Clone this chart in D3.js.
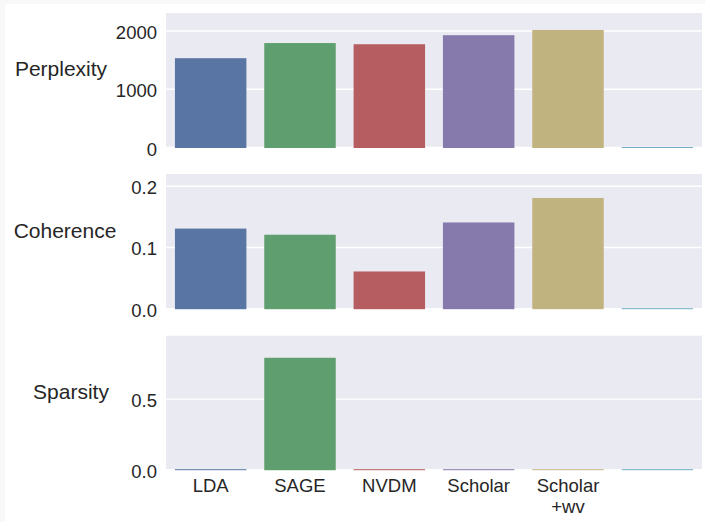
<!DOCTYPE html>
<html>
<head>
<meta charset="utf-8">
<script src="https://cdn.jsdelivr.net/npm/d3@7/dist/d3.min.js"></script>
<style>
  html, body { margin: 0; padding: 0; background: #ffffff; }
  svg { display: block; }
  text { font-family: "Liberation Sans", Arial, Helvetica, sans-serif; fill: #262626; }
</style>
</head>
<body>
<svg id="chart" width="705" height="522"></svg>
<script>
// Models compared (the last slot is an unlabeled reference bar)
const models = ["LDA", "SAGE", "NVDM", "Scholar", "Scholar\n+wv", ""];
const colors = ["#5875a4", "#5f9e6e", "#b55d60", "#857aab", "#c1b37f", "#71aec0"];

// Metric values per model
const perplexity = [1525, 1785, 1765, 1920, 2010, 0];
const coherence  = [0.13, 0.12, 0.06, 0.14, 0.18, 0];
const sparsity   = [0, 0.79, 0, 0, 0, 0];

// Tick values per panel
const perplexityTicks = [0, 1000, 2000];
const coherenceTicks  = [0, 0.1, 0.2];
const sparsityTicks   = [0, 0.5];

const panels = [
  { label: "Perplexity", values: perplexity, ticks: perplexityTicks, max: 2310, fmt: d3.format("d"),
    top: 13, bottom: 147.5, labelX: 61, labelY: 76, grid: 1.6 },
  { label: "Coherence", values: coherence, ticks: coherenceTicks, max: 0.22, fmt: d3.format(".1f"),
    top: 174, bottom: 308.7, labelX: 65, labelY: 237.7, grid: 1.6 },
  { label: "Sparsity", values: sparsity, ticks: sparsityTicks, max: 0.95, fmt: d3.format(".1f"),
    top: 335.7, bottom: 469.7, labelX: 71, labelY: 399.3, grid: 1.2 }
];

const svg = d3.select("#chart");
const left = 166, right = 702;
const edge = 1; // bar outline width, drawn in the bar colour

// faint frame along the top and left edges
svg.append("rect").attr("x", 0).attr("y", 0).attr("width", 705).attr("height", 4).attr("fill", "#f8f8f8");
svg.append("rect").attr("x", 0).attr("y", 0).attr("width", 5).attr("height", 522).attr("fill", "#f8f8f8");

const x = d3.scaleBand()
  .domain(d3.range(models.length))
  .range([left, right])
  .paddingInner(0.2)
  .paddingOuter(0.1);

panels.forEach((p, pi) => {
  const y = d3.scaleLinear().domain([0, p.max]).range([p.bottom, p.top]);
  const g = svg.append("g");

  // plot background
  g.append("rect")
    .attr("x", left).attr("y", p.top)
    .attr("width", right - left).attr("height", p.bottom - p.top)
    .attr("fill", "#eaeaf2");

  // horizontal grid
  g.selectAll("line.grid").data(p.ticks).join("line")
    .attr("class", "grid")
    .attr("x1", left).attr("x2", right)
    .attr("y1", d => y(d)).attr("y2", d => y(d))
    .attr("stroke", "#ffffff").attr("stroke-width", p.grid);

  // y tick labels
  g.selectAll("text.tick").data(p.ticks).join("text")
    .attr("class", "tick")
    .attr("x", 157)
    .attr("y", d => y(d) + 8)
    .attr("text-anchor", "end")
    .style("font-size", "18.5px")
    .text(d => p.fmt(d));

  // bars: the outline adds half an edge on every side, so zero values still show as a thin line
  g.selectAll("rect.bar").data(p.values).join("rect")
    .attr("class", "bar")
    .attr("x", (d, i) => x(i))
    .attr("width", x.bandwidth())
    .attr("y", d => Math.min(y(d), y(0)) - edge / 2)
    .attr("height", d => Math.abs(y(0) - y(d)) + edge)
    .attr("fill", (d, i) => colors[i]);

  // metric label
  g.append("text")
    .attr("x", p.labelX).attr("y", p.labelY)
    .attr("text-anchor", "middle")
    .style("font-size", "21px")
    .text(p.label);

  // category labels under the last panel
  if (pi === panels.length - 1) {
    const lab = g.selectAll("text.cat").data(models).join("text")
      .attr("class", "cat")
      .attr("text-anchor", "middle")
      .style("font-size", "18.5px");
    lab.each(function(d, i) {
      const t = d3.select(this);
      d.split("\n").forEach((line, k) => {
        t.append("tspan")
          .attr("x", x(i) + x.bandwidth() / 2)
          .attr("y", 492.3 + k * 20.5)
          .text(line);
      });
    });
  }
});
</script>
</body>
</html>
